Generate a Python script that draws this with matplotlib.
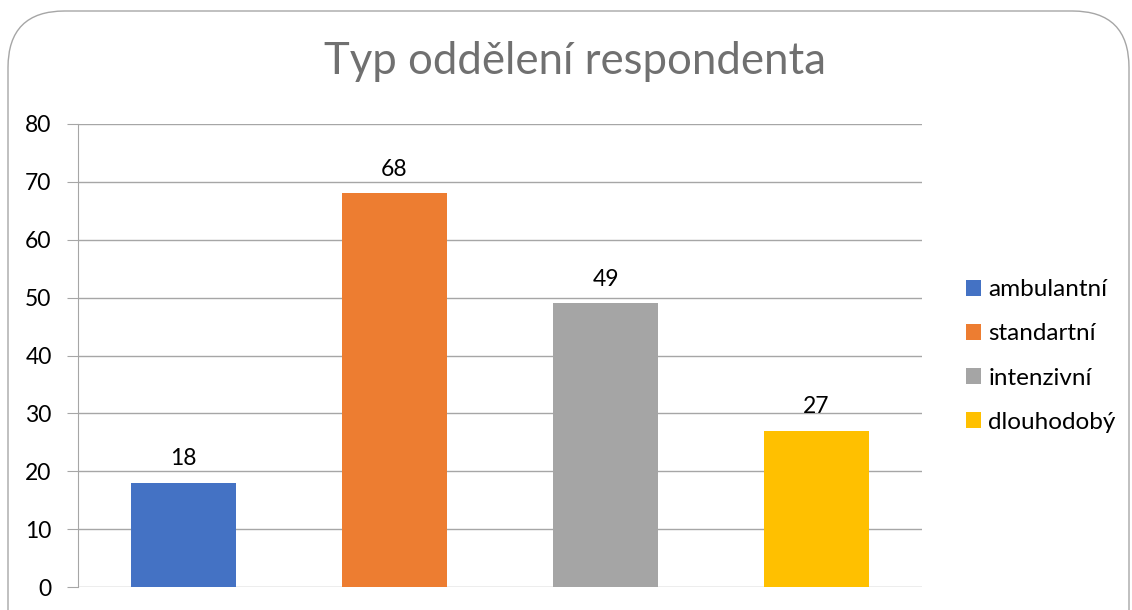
import matplotlib
matplotlib.use("Agg")
import matplotlib.pyplot as plt
from matplotlib.patches import FancyBboxPatch, Patch

categories = ["ambulantní", "standartní", "intenzivní", "dlouhodobý"]
values = [18, 68, 49, 27]
colors = ["#4472C4", "#ED7D31", "#A5A5A5", "#FFC000"]
yticks = [0, 10, 20, 30, 40, 50, 60, 70, 80]
title = "Typ oddělení respondenta"

plt.rcParams['font.family'] = ['Lato', 'DejaVu Sans']

W, H = 1132, 610
fig = plt.figure(figsize=(W/100, H/100), dpi=100)
fig.patch.set_facecolor("white")

# rounded border
border = FancyBboxPatch((8/W, -0.2), (1129-8)/W, (610-11)/H + 0.2,
                        boxstyle="round,pad=0,rounding_size=0.05",
                        transform=fig.transFigure, facecolor="none",
                        edgecolor="#A6A6A6", linewidth=1.0, mutation_aspect=W/H)
fig.patches.append(border)

ax = fig.add_axes([78/W, 1-587/H, (922-78)/W, (587-124)/H])
x = list(range(len(categories)))
bars = ax.bar(x, values, width=0.5, color=colors, zorder=3)
ax.set_xlim(-0.5, len(categories)-0.5)
ax.set_ylim(0, 80)
ax.set_yticks(yticks)
ax.set_xticks([])
ax.grid(axis="y", color="#A6A6A6", linewidth=1.0, zorder=0)
for s in ["top", "right", "bottom"]:
    ax.spines[s].set_visible(False)
ax.spines["left"].set_color("#A6A6A6")
ax.tick_params(axis="y", length=8, color="#A6A6A6", labelsize=16.5, pad=11, labelcolor="black")
for b, v in zip(bars, values):
    ax.annotate(str(v), (b.get_x()+b.get_width()/2, v), xytext=(0, 10),
                textcoords="offset points", ha="center", va="bottom", fontsize=16.5)

fig.text(575/W, 1-62/H, title, ha="center", va="center", fontsize=31.5, color="#707070")

handles = [Patch(facecolor=c, label=l) for c, l in zip(colors, categories)]
leg = fig.legend(handles=handles, loc="center left", bbox_to_anchor=(944/W, 1-356/H),
                 frameon=False, fontsize=17.5, handlelength=0.62, handleheight=0.62,
                 handletextpad=0.3, labelspacing=0.95)

fig.savefig("out.png", dpi=100)
